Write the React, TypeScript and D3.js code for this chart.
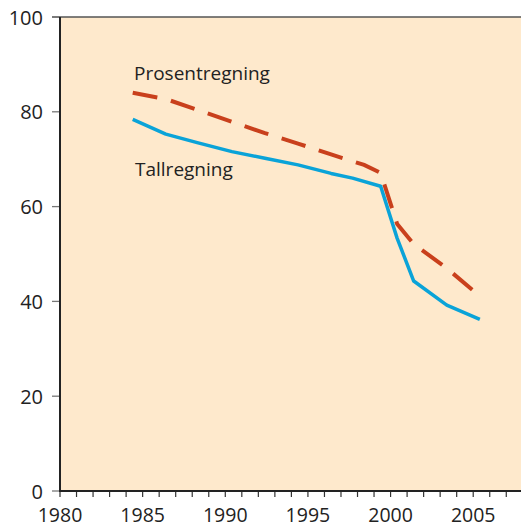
import React from "react";
import * as d3 from "d3";

const tallYears = [1984.4, 1986.4, 1988.3, 1990.4, 1992.4, 1994.4, 1996.4, 1997.7, 1999.4, 2000.4, 2001.4, 2003.4, 2005.4];
const tallValues = [78.4, 75.3, 73.5, 71.6, 70.2, 68.8, 67.0, 66.0, 64.3, 53.3, 44.3, 39.2, 36.2];
const prosYears = [1984.4, 1986.4, 1988.4, 1990.4, 1992.4, 1994.4, 1996.4, 1998.4, 1999.4, 2000.4, 2001.4, 2003.4, 2005.4];
const prosValues = [84.0, 82.7, 80.3, 77.9, 75.5, 73.3, 71.0, 68.8, 67.1, 56.3, 52.1, 47.0, 41.1];
const xTickLabels = [1980, 1985, 1990, 1995, 2000, 2005];
const yTickLabels = [0, 20, 40, 60, 80, 100];
const seriesNames = ["Prosentregning", "Tallregning"];

export default function App() {
  const W = 521, H = 528;
  const x = d3.scaleLinear().domain([1980, 2008]).range([60, 522.8]);
  const y = d3.scaleLinear().domain([0, 100]).range([491, 17]);
  const line = d3.line<[number, number]>().x(d => x(d[0])).y(d => y(d[1]));
  const tall = tallYears.map((t, i) => [t, tallValues[i]] as [number, number]);
  const pros = prosYears.map((t, i) => [t, prosValues[i]] as [number, number]);
  const minorTicks = d3.range(1980, 2008);
  const font = "'Open Sans', 'Noto Sans', sans-serif";
  return (
    <svg width={W} height={H} style={{ position: "absolute", left: 0, top: 0 }}>
      <rect x={0} y={0} width={W} height={H} fill="#ffffff" />
      <rect x={x(1980)} y={y(100)} width={W - x(1980)} height={y(0) - y(100)} fill="#fee9cc" />
      {/* top border */}
      <line x1={52} x2={W} y1={y(100)} y2={y(100)} stroke="#555" strokeWidth={1.3} />
      {/* y ticks */}
      {yTickLabels.map(v => (
        <g key={v}>
          <line x1={52} x2={60} y1={y(v)} y2={y(v)} stroke="#777" strokeWidth={1.3} />
          <text x={43} y={y(v) + 7.5} textAnchor="end" fontSize={20} fontFamily={font} fill="#222">{v}</text>
        </g>
      ))}
      {/* x ticks */}
      {minorTicks.map(t => (
        <line key={t} x1={x(t)} x2={x(t)} y1={y(0)} y2={y(0) + 6} stroke="#333" strokeWidth={1.2} />
      ))}
      {xTickLabels.map(t => (
        <text key={t} x={x(t)} y={522} textAnchor="middle" fontSize={19.5} fontFamily={font} fill="#222">{t}</text>
      ))}
      {/* axes */}
      <line x1={x(1980)} x2={x(1980)} y1={y(100)} y2={y(0) + 1} stroke="#222" strokeWidth={2} />
      <line x1={x(1980)} x2={W} y1={y(0)} y2={y(0)} stroke="#222" strokeWidth={2} />
      {/* series */}
      <path d={line(pros) ?? ""} fill="none" stroke="#c9401c" strokeWidth={4} strokeDasharray="25 14" />
      <path d={line(tall) ?? ""} fill="none" stroke="#0aa3d8" strokeWidth={3.5} strokeLinejoin="round" />
      <text x={134} y={80} fontSize={19} fontFamily={font} fill="#222">{seriesNames[0]}</text>
      <text x={135} y={176} fontSize={19} fontFamily={font} fill="#222">{seriesNames[1]}</text>
    </svg>
  );
}
